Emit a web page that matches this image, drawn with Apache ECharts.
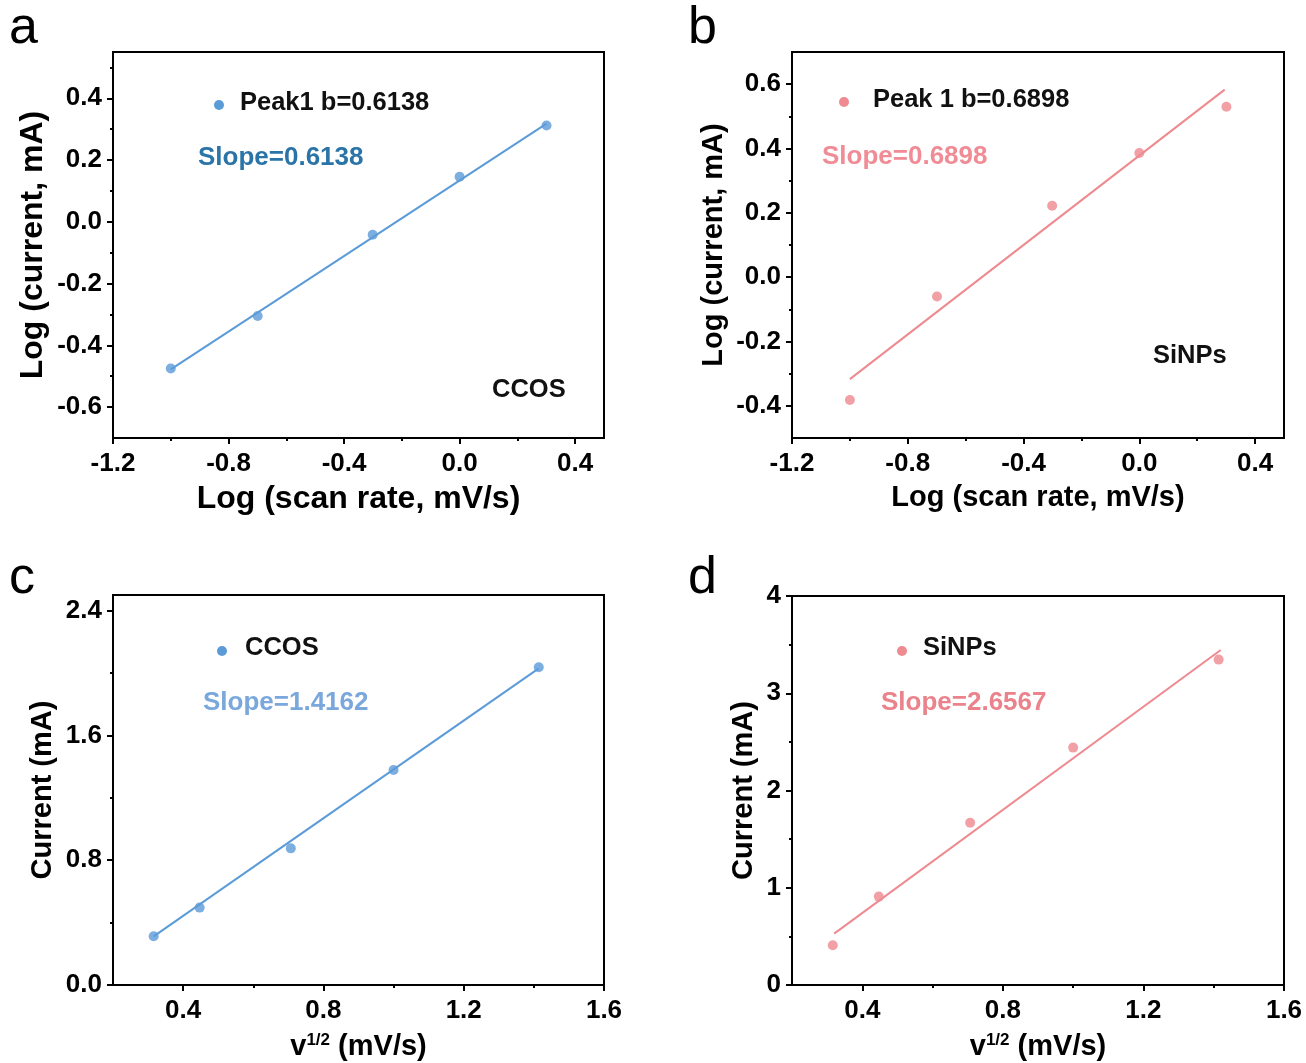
<!DOCTYPE html>
<html>
<head>
<meta charset="utf-8">
<script src="https://cdn.jsdelivr.net/npm/echarts@6/dist/echarts.min.js"></script>
<style>
html,body{margin:0;padding:0;background:#fff;}
#main{width:1306px;height:1063px;}
</style>
</head>
<body>
<div id="main"></div>
<script>
// log(scan rate) vs log(current)
var xLog = [-1.0, -0.699, -0.301, 0.0, 0.301];
var logCCOS = [-0.475, -0.305, -0.042, 0.146, 0.312];
var logSiNPs = [-0.382, -0.060, 0.222, 0.386, 0.530];
var fitLogCCOSx = [-1.0, 0.301];
var fitLogCCOSy = [-0.478, 0.318];
var fitLogSiNPsx = [-1.0, 0.295];
var fitLogSiNPsy = [-0.317, 0.583];

// v^1/2 vs current
var xSqrt = [0.316, 0.447, 0.707, 1.0, 1.414];
var curCCOS = [0.312, 0.496, 0.876, 1.378, 2.037];
var curSiNPs = [0.408, 0.909, 1.668, 2.441, 3.346];
var fitCurCCOSx = [0.316, 1.414];
var fitCurCCOSy = [0.312, 2.030];
var fitCurSiNPsx = [0.320, 1.420];
var fitCurSiNPsy = [0.528, 3.445];

// ticks
var ticksLogX = [-1.2, -0.8, -0.4, 0.0, 0.4];
var minorLogX = [-1.0, -0.6, -0.2, 0.2];
var ticksLogYa = [-0.6, -0.4, -0.2, 0.0, 0.2, 0.4];
var minorLogYa = [-0.5, -0.3, -0.1, 0.1, 0.3, 0.5];
var ticksLogYb = [-0.4, -0.2, 0.0, 0.2, 0.4, 0.6];
var minorLogYb = [-0.3, -0.1, 0.1, 0.3, 0.5];
var ticksSqrtX = [0.4, 0.8, 1.2, 1.6];
var minorSqrtX = [0.6, 1.0, 1.4];
var ticksCurYc = [0.0, 0.8, 1.6, 2.4];
var minorCurYc = [0.4, 1.2, 2.0];
var ticksCurYd = [0, 1, 2, 3, 4];
var minorCurYd = [0.5, 1.5, 2.5, 3.5];

var FONT = 'Liberation Sans, Arial, sans-serif';
var BLUE = '#5b9bd8';
var PINK = '#ee8a90';

function zip(xs, ys){
    var out = [];
    for(var i = 0; i < xs.length; i++){
        out.push([xs[i], ys[i]]);
    }
    return out;
}

function fmt1(v){
    if(Math.abs(v) < 1e-9) return '0.0';
    return v.toFixed(1);
}

// main axis: line, major ticks, labels, title
function mainAxis(dim, g, min, max, ticks, name, gap, nameSize, labelFmt){
    var ax = {
        type: 'value', gridIndex: g, min: min, max: max,
        position: dim == 'x' ? 'bottom' : 'left',
        name: name, nameLocation: 'middle', nameGap: gap,
        nameTextStyle: {fontFamily: FONT, fontWeight: 'bold', fontSize: nameSize, color: '#000'},
        axisLine: {show: true, onZero: false, lineStyle: {color: '#000', width: 2}},
        axisTick: {show: true, inside: false, length: 6, customValues: ticks, lineStyle: {color: '#000', width: 2}},
        axisLabel: {show: true, customValues: ticks, margin: dim == 'x' ? 13 : 11,
            fontFamily: FONT, fontWeight: 'bold', fontSize: 26, color: '#000',
            formatter: labelFmt},
        splitLine: {show: false}
    };
    return ax;
}

// minor tick axis overlaid on the main one
function minorAxis(dim, g, min, max, ticks){
    return {
        type: 'value', gridIndex: g, min: min, max: max,
        position: dim == 'x' ? 'bottom' : 'left',
        axisLine: {show: false, onZero: false},
        axisTick: {show: true, inside: false, length: 3, customValues: ticks, lineStyle: {color: '#000', width: 2}},
        axisLabel: {show: false},
        splitLine: {show: false}
    };
}

var supName = '{n|v}{s|1/2}{n| (mV/s)}';
function supStyle(size){
    return {
        fontFamily: FONT, fontWeight: 'bold', fontSize: size, color: '#000',
        rich: {
            n: {fontFamily: FONT, fontWeight: 'bold', fontSize: size, color: '#000'},
            s: {fontFamily: FONT, fontWeight: 'bold', fontSize: 17, color: '#000', verticalAlign: 'top'}
        }
    };
}

var xAxes = [
    mainAxis('x', 0, -1.2, 0.5, ticksLogX, 'Log (scan rate, mV/s)', 45, 32, fmt1),
    minorAxis('x', 0, -1.2, 0.5, minorLogX),
    mainAxis('x', 1, -1.2, 0.5, ticksLogX, 'Log (scan rate, mV/s)', 45, 29, fmt1),
    minorAxis('x', 1, -1.2, 0.5, minorLogX),
    mainAxis('x', 2, 0.2, 1.6, ticksSqrtX, supName, 47, 29, fmt1),
    minorAxis('x', 2, 0.2, 1.6, minorSqrtX),
    mainAxis('x', 3, 0.2, 1.6, ticksSqrtX, supName, 47, 29, fmt1),
    minorAxis('x', 3, 0.2, 1.6, minorSqrtX)
];
xAxes[4].nameTextStyle = supStyle(29);
xAxes[6].nameTextStyle = supStyle(29);

var yAxes = [
    mainAxis('y', 0, -0.7, 0.55, ticksLogYa, 'Log (current, mA)', 64, 32, fmt1),
    minorAxis('y', 0, -0.7, 0.55, minorLogYa),
    mainAxis('y', 1, -0.5, 0.7, ticksLogYb, 'Log (current, mA)', 64, 29, fmt1),
    minorAxis('y', 1, -0.5, 0.7, minorLogYb),
    mainAxis('y', 2, 0, 2.5, ticksCurYc, 'Current (mA)', 56, 29, fmt1),
    minorAxis('y', 2, 0, 2.5, minorCurYc),
    mainAxis('y', 3, 0, 4, ticksCurYd, 'Current (mA)', 34, 29, function(v){ return String(Math.round(v)); }),
    minorAxis('y', 3, 0, 4, minorCurYd)
];

function pts(name, g, data, color){
    return {
        name: name, type: 'scatter', xAxisIndex: g * 2, yAxisIndex: g * 2,
        data: data, symbol: 'circle', symbolSize: 10,
        itemStyle: {color: color}, z: 3
    };
}
function fit(g, data, color){
    return {
        type: 'line', xAxisIndex: g * 2, yAxisIndex: g * 2,
        data: data, symbol: 'none', silent: true,
        lineStyle: {color: color, width: 2}, z: 2
    };
}

function txt(x, y, s, color, size, weight){
    return {
        type: 'text', x: x, y: y, z: 10,
        style: {text: s, fill: color, font: (weight || 'bold') + ' ' + size + 'px ' + FONT,
            align: 'left', verticalAlign: 'middle'}
    };
}
function dot(cx, cy, color){
    return {type: 'circle', z: 10, shape: {cx: cx, cy: cy, r: 5}, style: {fill: color}};
}

var gridStyle = {show: true, borderColor: '#000', borderWidth: 2, backgroundColor: 'transparent', containLabel: false};

var option = {
    backgroundColor: '#fff',
    animation: false,
    grid: [
        Object.assign({left: 113, top: 52, width: 491, height: 386}, gridStyle),
        Object.assign({left: 792, top: 52, width: 492, height: 386}, gridStyle),
        Object.assign({left: 113, top: 595, width: 491, height: 390}, gridStyle),
        Object.assign({left: 792, top: 596, width: 492, height: 389}, gridStyle)
    ],
    xAxis: xAxes,
    yAxis: yAxes,
    series: [
        fit(0, zip(fitLogCCOSx, fitLogCCOSy), BLUE),
        pts('Peak1 b=0.6138', 0, zip(xLog, logCCOS), BLUE),
        fit(1, zip(fitLogSiNPsx, fitLogSiNPsy), PINK),
        pts('Peak 1 b=0.6898', 1, zip(xLog, logSiNPs), PINK),
        fit(2, zip(fitCurCCOSx, fitCurCCOSy), BLUE),
        pts('CCOS', 2, zip(xSqrt, curCCOS), BLUE),
        fit(3, zip(fitCurSiNPsx, fitCurSiNPsy), PINK),
        pts('SiNPs', 3, zip(xSqrt, curSiNPs), PINK)
    ],
    graphic: [
        // panel letters
        txt(9, 29, 'a', '#000', 52, 'normal'),
        txt(688, 29, 'b', '#000', 52, 'normal'),
        txt(9, 579, 'c', '#000', 52, 'normal'),
        txt(688, 579, 'd', '#000', 52, 'normal'),
        // a
        dot(219, 105, BLUE),
        txt(240, 103, 'Peak1 b=0.6138', '#111', 25.5),
        txt(198, 158, 'Slope=0.6138', '#2b74a8', 26),
        txt(492, 390, 'CCOS', '#111', 25.5),
        // b
        dot(844, 102, PINK),
        txt(873, 100, 'Peak 1 b=0.6898', '#111', 25.5),
        txt(822, 157, 'Slope=0.6898', '#f08c96', 26),
        txt(1153, 356, 'SiNPs', '#111', 25.5),
        // c
        dot(222, 651, BLUE),
        txt(245, 648, 'CCOS', '#111', 25.5),
        txt(203, 703, 'Slope=1.4162', '#7aa7dc', 26),
        // d
        dot(902, 651, PINK),
        txt(923, 648, 'SiNPs', '#111', 25.5),
        txt(881, 703, 'Slope=2.6567', '#ea838b', 26)
    ]
};

var myChart = echarts.init(document.getElementById('main'));
myChart.setOption(option);
</script>
</body>
</html>
